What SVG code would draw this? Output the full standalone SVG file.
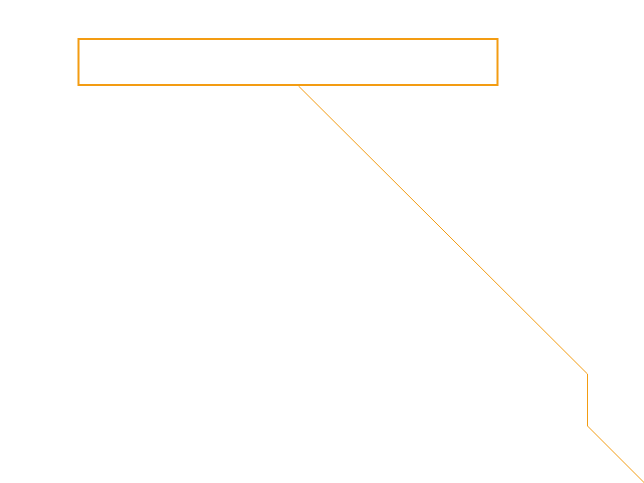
<svg xmlns="http://www.w3.org/2000/svg" width="644" height="483" viewBox="0 0 644 483">
<style>
.node{fill:#ffffff;stroke:#f39c12;stroke-width:2}
.edge{fill:none;stroke:#f39c12;stroke-width:1}
</style>
<rect width="644" height="483" fill="#ffffff"/>
<g id="connectors">
<polyline class="edge" points="298.5,86 587.5,374 587.5,426 645,483.5"/>
</g>
<g id="node1">
<rect class="node" x="78.5" y="39" width="419" height="46"/>
</g>
</svg>
